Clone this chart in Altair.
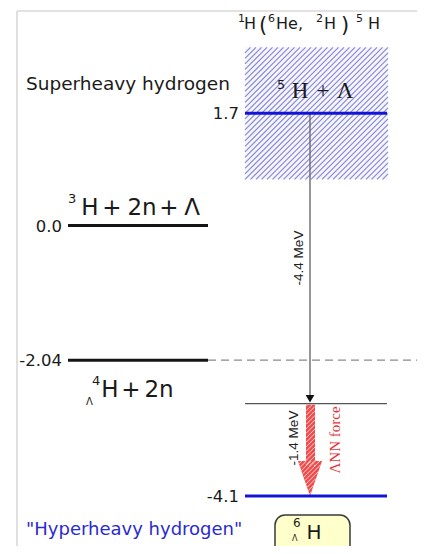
import altair as alt
import pandas as pd
import numpy as np

# ---------------- data ----------------
level_energy = [1.7, 0.0, -2.04, -2.7, -4.1]          # MeV
level_side = ["right", "left", "left", "right", "right"]
level_kind = ["blue", "black", "black", "thin", "blue"]
tick_text = ["1.7", "0.0", "-2.04", "", "-4.1"]
band_center = 1.7          # 5H + Lambda resonance
band_half = 1.0            # hatched uncertainty band half width (MeV)
step_labels = ["-4.4 MeV", "-1.4 MeV"]
step_from = [1.7, -2.7]
step_to = [-2.7, -4.1]
threshold_energy = -2.04   # dashed continuation

# ---------------- layout helpers ----------------
W, H = 409, 538
PX0, PPM = 225.5, 66.0     # pixel row of E=0, pixels per MeV


def E(py):
    return (PX0 - py) / PPM


def P(e):
    return PX0 - PPM * e


XS = alt.Scale(domain=[8, 8 + W])
YS = alt.Scale(domain=[E(8 + H), E(8)], nice=False, zero=False)
X = alt.X("x:Q", scale=XS, axis=None)
Y = alt.Y("y:Q", scale=YS, axis=None)
X2 = alt.X2("x2:Q")
Y2 = alt.Y2("y2:Q")

COLS = {"left": (68, 208), "right": (245, 387)}
STYLE = {"blue": ("#1414d6", 3), "black": ("#151515", 3), "thin": ("#555555", 1.3)}

layers = []


def rule(rows, color, width, dash=None, opacity=1.0):
    df = pd.DataFrame(rows, columns=["x", "y", "x2", "y2"])
    kw = dict(color=color, strokeWidth=width, opacity=opacity)
    if dash:
        kw["strokeDash"] = dash
    return alt.Chart(df).mark_rule(**kw).encode(x=X, y=Y, x2=X2, y2=Y2)


def txt(s, x, py, size, font="DejaVu Sans", color="#1a1a1a", align="left",
        baseline="alphabetic", angle=0):
    df = pd.DataFrame({"x": [x], "y": [E(py)], "t": [s]})
    return alt.Chart(df).mark_text(align=align, baseline=baseline, fontSize=size,
                                   font=font, color=color, angle=angle).encode(
        x=X, y=Y, text="t:N")


def clip_line(p0, d, poly):
    tmin, tmax = -1e9, 1e9
    cx = np.mean([p[0] for p in poly])
    cy = np.mean([p[1] for p in poly])
    n = len(poly)
    for i in range(n):
        a, b = poly[i], poly[(i + 1) % n]
        nx, ny = -(b[1] - a[1]), (b[0] - a[0])
        if (cx - a[0]) * nx + (cy - a[1]) * ny < 0:
            nx, ny = -nx, -ny
        num = (p0[0] - a[0]) * nx + (p0[1] - a[1]) * ny
        den = d[0] * nx + d[1] * ny
        if abs(den) < 1e-12:
            if num < 0:
                return None
            continue
        t = -num / den
        if den > 0:
            tmin = max(tmin, t)
        else:
            tmax = min(tmax, t)
    if tmin >= tmax:
        return None
    return ((p0[0] + tmin * d[0], p0[1] + tmin * d[1]),
            (p0[0] + tmax * d[0], p0[1] + tmax * d[1]))


def hatch(poly, step, d=(1, -1)):
    xs = [p[0] for p in poly]
    ys = [p[1] for p in poly]
    span = (max(xs) - min(xs)) + (max(ys) - min(ys))
    rows = []
    for c in np.arange(min(xs) - span, max(xs) + span, step):
        seg = clip_line((c, min(ys)), d, poly)
        if seg:
            (ax, ay), (bx, by) = seg
            rows.append([ax, E(ay), bx, E(by)])
    return rows


# ---------------- frame ----------------
layers.append(rule([[17, E(11), 17, E(8 + H)], [17, E(11), 8 + W, E(11)]], "#d9d9d9", 1.6))

# ---------------- hatched band around 5H ----------------
bx0, bx1 = 245, 388
btop, bbot = P(band_center + band_half), P(band_center - band_half)
band_df = pd.DataFrame({"x": [bx0], "x2": [bx1], "y": [band_center + band_half],
                        "y2": [band_center - band_half]})
layers.append(alt.Chart(band_df).mark_rect(color="#f6f6ff").encode(x=X, x2=X2, y=Y, y2=Y2))
box_poly = [(bx0, btop), (bx1, btop), (bx1, bbot), (bx0, bbot)]
layers.append(rule(hatch(box_poly, 5.5), "#8a8ad6", 1.2))

# ---------------- dashed threshold ----------------
layers.append(rule([[COLS["left"][1], threshold_energy, 8 + W, threshold_energy]],
                   "#8a8a8a", 1.1, dash=[8, 5]))

# ---------------- transition arrow -4.4 MeV ----------------
ax_ = 310
layers.append(rule([[ax_, step_from[0], ax_, E(P(step_to[0]) - 6)]], "#6a6a6a", 1.4))
head_df = pd.DataFrame({"x": [ax_], "y": [E(P(step_to[0]) - 5)]})
layers.append(alt.Chart(head_df).mark_point(shape="triangle-down", filled=True, size=75,
                                            color="#111111", opacity=1).encode(x=X, y=Y))

# ---------------- red hatched arrow (Lambda NN force) ----------------
shaft = [(306, P(step_from[1]) + 1), (315, P(step_from[1]) + 1), (315, 466), (306, 466)]
tip_y = P(step_to[1])
head = [(298, 461), (322, 461), (310, tip_y)]
shaft_df = pd.DataFrame({"x": [306], "x2": [315], "y": [E(shaft[0][1])], "y2": [E(466)]})
layers.append(alt.Chart(shaft_df).mark_rect(color="#f04c4c").encode(x=X, x2=X2, y=Y, y2=Y2))
tri_df = pd.DataFrame({"y": [E(461), E(tip_y)], "x": [298, 310], "x2": [322, 310]})
layers.append(alt.Chart(tri_df).mark_area(orient="horizontal", color="#f04c4c").encode(
    y=Y, x=X, x2=X2))
layers.append(rule(hatch(shaft, 4.5) + hatch(head, 4.5), "#ffd6d6", 1.0))

# ---------------- energy levels ----------------
lv_rows = {}
for e, side, kind in zip(level_energy, level_side, level_kind):
    x0, x1 = COLS[side]
    lv_rows.setdefault(kind, []).append([x0, e, x1, e])
for kind, rows in lv_rows.items():
    c, w = STYLE[kind]
    layers.append(rule(rows, c, w))

# tick texts
for e, side, t in zip(level_energy, level_side, tick_text):
    if not t:
        continue
    xr = COLS[side][0] - 6
    layers.append(txt(t, xr, P(e) + 1, 16.5, align="right", baseline="middle"))

# ---------------- 6ΛH box ----------------
box_df = pd.DataFrame({"x": [275], "x2": [350], "y": [E(515)], "y2": [E(566)]})
layers.append(alt.Chart(box_df).mark_rect(fill="#ffffcc", stroke="#3a3a3a", strokeWidth=1.5,
                                          cornerRadius=10).encode(x=X, x2=X2, y=Y, y2=Y2))

# ---------------- texts ----------------
# top reaction
F = "DejaVu Sans"
layers += [
    txt("1", 238, 22, 11, F),
    txt("H", 244, 29, 16, F),
    txt("(", 259, 32, 21, F),
    txt("6", 268, 22, 11, F),
    txt("He,", 276, 29, 16, F),
    txt("2", 316, 22, 11, F),
    txt("H", 324, 29, 16, F),
    txt(")", 341, 32, 21, F),
    txt("5", 356, 22, 11, F),
    txt("H", 368, 29, 16, F),
]
layers.append(txt("Superheavy hydrogen", 26, 90, 18.5, F))
# 5H + Lambda (serif)
S = "Liberation Serif"
layers += [
    txt("5", 277, 89, 13, F),
    txt("H", 300, 98, 23, S, align="center"),
    txt("+", 323, 98, 23, S, align="center"),
    txt("Λ", 345, 98, 23, S, align="center"),
]
# 3H + 2n + Lambda
layers += [
    txt("3", 68, 203, 13, F),
    txt("H", 90, 215, 23, F, align="center"),
    txt("+", 112, 215, 23, F, align="center"),
    txt("2n", 142, 215, 23, F, align="center"),
    txt("+", 169, 215, 23, F, align="center"),
    txt("Λ", 192, 215, 23, F, align="center"),
]
# 4ΛH + 2n
layers += [
    txt("4", 92, 385, 13, F),
    txt("Λ", 86, 405, 10, F),
    txt("H", 110, 397, 23, F, align="center"),
    txt("+", 131, 397, 23, F, align="center"),
    txt("2n", 159, 397, 23, F, align="center"),
]
# step labels
layers.append(txt(step_labels[0], 299, 258, 13.5, "Liberation Sans", "#222222", align="center",
                  baseline="middle", angle=270))
layers.append(txt(step_labels[1], 294, 438, 13.5, "Liberation Sans", "#222222", align="center",
                  baseline="middle", angle=270))
layers.append(txt("ΛNN force", 335, 440, 15, S, "#e3343a", align="center",
                  baseline="middle", angle=270))
# hyperheavy
layers.append(txt("\"Hyperheavy hydrogen\"", 26, 535, 18, F, "#2a2ad0"))
# 6ΛH in box
layers += [
    txt("6", 293, 527, 12, F),
    txt("H", 314, 539, 20, F, align="center"),
    txt("Λ", 292, 541, 8, F),
]

chart = alt.layer(*layers).properties(
    width=W, height=H, padding=0,
    autosize=alt.AutoSizeParams(type="none"),
).configure_view(stroke=None)

chart.save("out.html", embed_options={"renderer": "svg", "actions": False})
